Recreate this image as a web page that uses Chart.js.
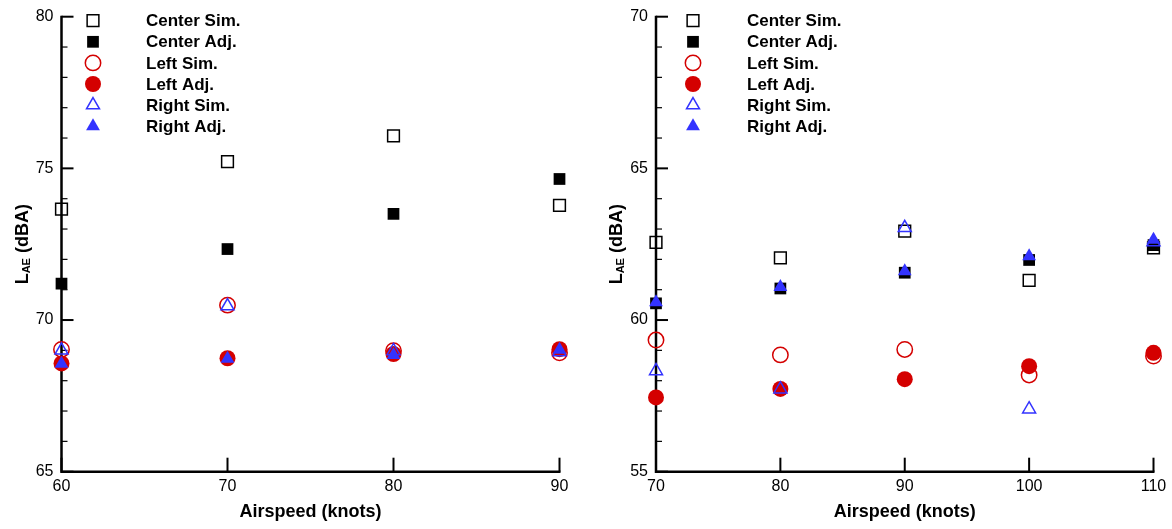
<!DOCTYPE html>
<html lang="en">
<head>
  <meta charset="UTF-8" />
  <title>LAE vs Airspeed</title>
  <style>
    body {
      margin: 0;
      background: #fff;
    }

    .panel {
      position: absolute;
      top: 0;
      height: 529px;
    }

    #left { left: 0; width: 590px; }
    #right { left: 590px; width: 582px; }
  </style>
</head>
<body>
  <div class="panel" id="left"><canvas id="chartLeft"></canvas></div>
  <div class="panel" id="right"><canvas id="chartRight"></canvas></div>

  <script src="https://cdn.jsdelivr.net/npm/chart.js"></script>
  <script>
    // Data
    const seriesNames = ['Center Sim.', 'Center Adj.', 'Left Sim.', 'Left Adj.', 'Right Sim.', 'Right Adj.'];

    // left panel
    const airspeedLeft = [60, 70, 80, 90];
    const centerSimLeft = [73.66, 75.22, 76.07, 73.78];
    const centerAdjLeft = [71.2, 72.34, 73.5, 74.65];
    const leftSimLeft = [69.03, 70.49, 68.99, 68.92];
    const leftAdjLeft = [68.57, 68.74, 68.88, 69.04];
    const rightSimLeft = [69.0, 70.46, 68.98, 68.95];
    const rightAdjLeft = [68.56, 68.72, 68.85, 69.02];
    const xTicksLeft = [60, 70, 80, 90];
    const yTicksLeft = [65, 70, 75, 80];

    // right panel
    const airspeedRight = [70, 80, 90, 100, 110];
    const centerSimRight = [62.56, 62.05, 62.93, 61.31, 62.38];
    const centerAdjRight = [60.55, 61.04, 61.56, 61.98, 62.47];
    const leftSimRight = [59.34, 58.85, 59.03, 58.19, 58.81];
    const leftAdjRight = [57.45, 57.73, 58.05, 58.48, 58.92];
    const rightSimRight = [58.32, 57.72, 63.04, 57.06, 62.57];
    const rightAdjRight = [60.59, 61.09, 61.61, 62.1, 62.65];
    const xTicksRight = [70, 80, 90, 100, 110];
    const yTicksRight = [55, 60, 65, 70];

    // Marker styles (same order as seriesNames)
    const RED = '#d40000';
    const BLUE = '#3333ff';
    const markers = [
      { style: 'rect', radius: 8.3, fill: 'rgba(0,0,0,0)', line: '#000', width: 1.5 },
      { style: 'rect', radius: 8.3, fill: '#000', line: '#000', width: 0 },
      { style: 'circle', radius: 7.7, fill: 'rgba(0,0,0,0)', line: RED, width: 1.5 },
      { style: 'circle', radius: 8, fill: RED, line: RED, width: 0 },
      { style: 'triangle', radius: 7.5, fill: 'rgba(0,0,0,0)', line: BLUE, width: 1.5 },
      { style: 'triangle', radius: 8, fill: BLUE, line: BLUE, width: 0 }
    ];

    const FONT = '"Liberation Sans", Arial, sans-serif';

    // axes, ticks, titles and legend drawn with the chart's own scales
    const framePlugin = {
      id: 'frame',
      beforeDatasetsDraw(chart, args, opts) {
        const ctx = chart.ctx;
        const a = chart.chartArea;
        const x = chart.scales.x;
        const y = chart.scales.y;
        ctx.save();
        ctx.strokeStyle = '#000';
        ctx.lineCap = 'butt';

        // y ticks, minor every 1 dB
        for (let v = y.min; v <= y.max; v++) {
          const py = y.getPixelForValue(v);
          const major = opts.yTicks.includes(v);
          ctx.lineWidth = major ? 2 : 1.2;
          ctx.beginPath();
          ctx.moveTo(a.left, py);
          ctx.lineTo(a.left + (major ? 12 : 6), py);
          ctx.stroke();
        }
        // x ticks
        ctx.lineWidth = 2;
        opts.xTicks.forEach(v => {
          const px = x.getPixelForValue(v);
          ctx.beginPath();
          ctx.moveTo(px, a.bottom);
          ctx.lineTo(px, a.bottom - 14);
          ctx.stroke();
        });
        // axis lines
        ctx.lineWidth = 2.5;
        ctx.beginPath();
        ctx.moveTo(a.left, a.top - 1);
        ctx.lineTo(a.left, a.bottom);
        ctx.lineTo(a.right + 1, a.bottom);
        ctx.stroke();

        // tick labels
        ctx.fillStyle = '#000';
        ctx.font = '16px ' + FONT;
        ctx.textAlign = 'right';
        ctx.textBaseline = 'middle';
        opts.yTicks.forEach(v => ctx.fillText(String(v), a.left - 8, y.getPixelForValue(v)));
        ctx.textAlign = 'center';
        opts.xTicks.forEach(v => ctx.fillText(String(v), x.getPixelForValue(v), a.bottom + 15));

        // x title
        ctx.font = 'bold 18px ' + FONT;
        ctx.fillText('Airspeed (knots)', (a.left + a.right) / 2, 512);

        // y title with subscript
        const big = 'bold 18px ' + FONT;
        const small = 'bold 11px ' + FONT;
        ctx.font = big;
        const wL = ctx.measureText('L').width;
        const wRest = ctx.measureText(' (dBA)').width;
        ctx.font = small;
        const wSub = ctx.measureText('AE').width;
        const start = -(wL + wSub + wRest) / 2;
        ctx.translate(opts.titleX, (a.top + a.bottom) / 2);
        ctx.rotate(-Math.PI / 2);
        ctx.textAlign = 'left';
        ctx.textBaseline = 'alphabetic';
        ctx.font = big;
        ctx.fillText('L', start, 0);
        ctx.font = small;
        ctx.fillText('AE', start + wL, 2);
        ctx.font = big;
        ctx.fillText(' (dBA)', start + wL + wSub, 0);
        ctx.setTransform(1, 0, 0, 1, 0, 0);
        ctx.restore();
      },
      afterDatasetsDraw(chart, args, opts) {
        const ctx = chart.ctx;
        const a = chart.chartArea;
        ctx.save();
        ctx.textAlign = 'left';
        ctx.textBaseline = 'middle';
        ctx.font = 'bold 17px ' + FONT;
        chart.data.datasets.forEach((ds, i) => {
          const m = markers[i];
          const ry = 20.7 + i * 21.1;
          ctx.fillStyle = m.fill;
          ctx.strokeStyle = m.line;
          ctx.lineWidth = m.width;
          Chart.helpers.drawPoint(ctx, {
            pointStyle: m.style, radius: m.radius, rotation: 0, borderWidth: m.width
          }, a.left + opts.legendSym, ry);
          ctx.fillStyle = '#000';
          ctx.fillText(ds.label, a.left + opts.legendText, ry + 1);
        });
        ctx.restore();
      }
    };

    function makeDatasets(xs, seriesList) {
      return seriesList.map((vals, i) => ({
        label: seriesNames[i],
        data: xs.map((v, k) => ({ x: v, y: vals[k] })),
        showLine: false,
        clip: false,
        order: seriesList.length - i,
        pointStyle: markers[i].style,
        pointRadius: markers[i].radius,
        pointHoverRadius: markers[i].radius,
        pointBackgroundColor: markers[i].fill,
        pointBorderColor: markers[i].line,
        pointBorderWidth: markers[i].width,
        pointHoverBorderWidth: markers[i].width
      }));
    }

    function makeChart(id, xs, seriesList, xTicks, yTicks, padding, extra) {
      return new Chart(document.getElementById(id), {
        type: 'scatter',
        data: { datasets: makeDatasets(xs, seriesList) },
        options: {
          responsive: true,
          maintainAspectRatio: false,
          animation: false,
          devicePixelRatio: 1,
          layout: { padding: padding },
          scales: {
            x: { type: 'linear', min: xTicks[0], max: xTicks[xTicks.length - 1], display: false },
            y: { type: 'linear', min: yTicks[0], max: yTicks[yTicks.length - 1], display: false }
          },
          plugins: {
            legend: { display: false },
            tooltip: { enabled: false },
            frame: Object.assign({ xTicks: xTicks, yTicks: yTicks }, extra)
          }
        },
        plugins: [framePlugin]
      });
    }

    makeChart('chartLeft', airspeedLeft,
      [centerSimLeft, centerAdjLeft, leftSimLeft, leftAdjLeft, rightSimLeft, rightAdjLeft],
      xTicksLeft, yTicksLeft,
      { left: 61.5, right: 30.5, top: 16.7, bottom: 57.3 },
      { titleX: 28, legendSym: 31.5, legendText: 84.5 });

    makeChart('chartRight', airspeedRight,
      [centerSimRight, centerAdjRight, leftSimRight, leftAdjRight, rightSimRight, rightAdjRight],
      xTicksRight, yTicksRight,
      { left: 66, right: 18.5, top: 16.7, bottom: 57.3 },
      { titleX: 32, legendSym: 37, legendText: 91 });
  </script>
</body>
</html>
